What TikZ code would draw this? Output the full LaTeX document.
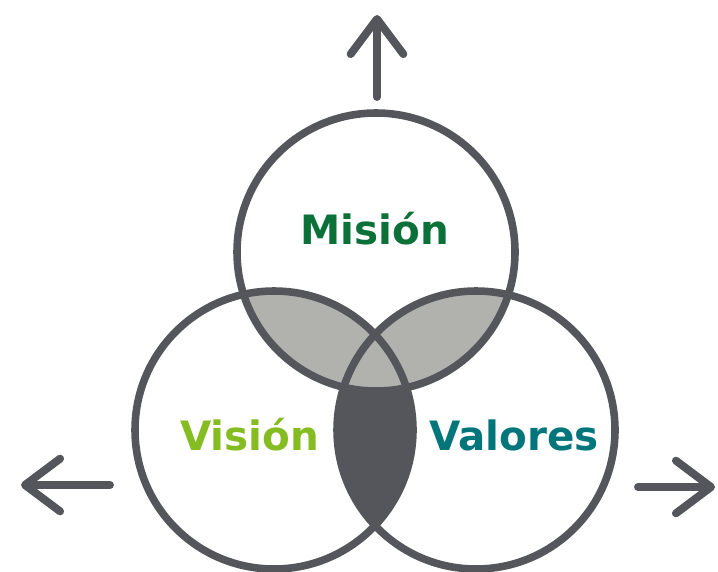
\documentclass[tikz,border=0pt]{standalone}
\usepackage{fontspec}
\setmainfont{DejaVu Sans}
\usepackage{tikz}
\usetikzlibrary{arrows.meta}
\definecolor{ringgray}{HTML}{54565B}
\definecolor{lensgray}{HTML}{B1B2AD}
\definecolor{misiongreen}{HTML}{0B7139}
\definecolor{visiongreen}{HTML}{85BC22}
\definecolor{valoresteal}{HTML}{00767A}
\tikzset{ring/.style={draw=ringgray,line width=4.3pt},
	word/.style={anchor=base,font=\fontsize{23}{28}\selectfont\bfseries},
	pointer/.style={draw=ringgray,line width=4.5pt,line cap=round,
		-{Straight Barb[length=20pt,width=30pt,line cap=round,line join=round]}}}

\begin{document}
\begin{tikzpicture}
\useasboundingbox (0,0) rectangle (14.36,11.42);
\coordinate (m) at (7.52,6.38);
\coordinate (vi) at (5.48,2.82);
\coordinate (va) at (9.52,2.82);
\def\rad{2.78}
\begin{scope}
  \clip (vi) circle (\rad);
  \fill[ringgray] (va) circle (\rad);
\end{scope}
\begin{scope}
  \clip (m) circle (\rad);
  \fill[lensgray] (vi) circle (\rad);
  \fill[lensgray] (va) circle (\rad);
\end{scope}
\draw[ring] (m) circle (\rad);
\draw[ring] (vi) circle (\rad);
\draw[ring] (va) circle (\rad);
\node[word,text=misiongreen] (mision) at (7.50,6.54) {Misión};
\node[word,text=visiongreen] (vision) at (4.99,2.42) {Visión};
\node[word,text=valoresteal] (valores) at (10.28,2.42) {Valores};
\coordinate (upfoot) at (7.54,9.48);
\coordinate (uptip) at (7.54,11.12);
\coordinate (leftfoot) at (2.2,1.72);
\coordinate (lefttip) at (0.42,1.72);
\coordinate (rightfoot) at (12.76,1.68);
\coordinate (righttip) at (14.3,1.68);
\draw[pointer] (upfoot) -- (uptip);
\draw[pointer] (leftfoot) -- (lefttip);
\draw[pointer] (rightfoot) -- (righttip);
\end{tikzpicture}
\end{document}
